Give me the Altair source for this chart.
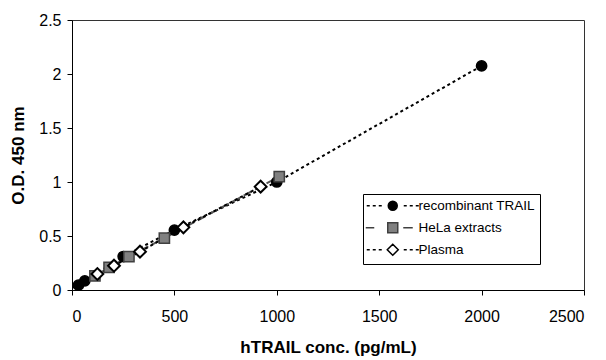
import altair as alt
import pandas as pd

series_names = ["recombinant TRAIL", "HeLa extracts", "Plasma"]

rec_x = [31.25, 62.5, 250, 500, 1000, 2000]
rec_y = [0.045, 0.085, 0.31, 0.555, 1.0, 2.075]

hela_x = [112, 181, 278, 451, 1012]
hela_y = [0.13, 0.21, 0.31, 0.48, 1.05]

plasma_x = [124, 205, 332, 544, 921]
plasma_y = [0.148, 0.225, 0.355, 0.58, 0.957]

x_ticks = [0, 500, 1000, 1500, 2000, 2500]
y_ticks = [0, 0.5, 1, 1.5, 2, 2.5]

rows = []
for name, xs, ys in [(series_names[0], rec_x, rec_y),
                     (series_names[1], hela_x, hela_y),
                     (series_names[2], plasma_x, plasma_y)]:
    for i, (a, b) in enumerate(zip(xs, ys)):
        rows.append({"series": name, "conc": a, "od": b, "order": i})
df = pd.DataFrame(rows)

FONT = "Liberation Sans"

x_enc = alt.X("conc:Q", scale=alt.Scale(domain=[0, 2500], nice=False),
              axis=alt.Axis(values=x_ticks, format="d", title="hTRAIL conc. (pg/mL)"))
y_enc = alt.Y("od:Q", scale=alt.Scale(domain=[0, 2.5], nice=False),
              axis=alt.Axis(values=y_ticks, format=".1~f", title="O.D. 450 nm"))

styles = {
    series_names[0]: dict(line="black", dash=[3, 3], shape="circle", fill="black", stroke="black", size=105, sw=1.5),
    series_names[1]: dict(line="#555555", dash=[9, 4], shape="square", fill="#808080", stroke="#404040", size=105, sw=1.5),
    series_names[2]: dict(line="black", dash=[3, 3], shape="diamond", fill="white", stroke="black", size=140, sw=2),
}

base = alt.Chart(df)
layers = []
for name in series_names:
    st = styles[name]
    sub = base.transform_filter(alt.datum.series == name)
    layers.append(sub.mark_line(strokeWidth=2, strokeDash=st["dash"], color=st["line"]).encode(
        x=x_enc, y=y_enc, order="order:Q"))
for name in series_names:
    st = styles[name]
    sub = base.transform_filter(alt.datum.series == name)
    layers.append(sub.mark_point(shape=st["shape"], filled=True, fill=st["fill"], stroke=st["stroke"],
                                 strokeWidth=st["sw"], size=st["size"], opacity=1).encode(x=x_enc, y=y_enc))

# legend symbols: dotted/dashed line + marker
dots = "M-5.2,0L-4.6,0M-4,0L-3.4,0M-2.8,0L-2.2,0M2.2,0L2.8,0M3.4,0L4,0M4.6,0L5.2,0"
circle = "M-0.9,0a0.9,0.9 0 1,0 1.8,0a0.9,0.9 0 1,0 -1.8,0Z"
square = "M-1,-1L1,-1L1,1L-1,1Z"
diamond = "M0,-1.1L1.1,0L0,1.1L-1.1,0Z"
legend_shapes = [dots + circle,
                 "M-5.4,0L-3.7,0M2.1,0L4,0" + square,
                 dots + diamond]

legend_layer = base.transform_filter("false").mark_point(opacity=1).encode(
    x=x_enc, y=y_enc,
    shape=alt.Shape("series:N", scale=alt.Scale(domain=series_names, range=legend_shapes),
                    legend=alt.Legend(title=None, orient="none", legendX=291, legendY=174,
                                      symbolSize=100, symbolStrokeWidth=1.5, symbolOffset=18,
                                      labelOffset=19, rowPadding=5, padding=5,
                                      strokeColor="black", fillColor="white",
                                      labelFont=FONT, labelFontSize=13.5, labelColor="black",
                                      symbolOpacity=1)),
    fill=alt.Fill("series:N", scale=alt.Scale(domain=series_names, range=["black", "#808080", "white"]),
                  legend=alt.Legend(title=None)),
    stroke=alt.Stroke("series:N", scale=alt.Scale(domain=series_names, range=["black", "#404040", "black"]),
                      legend=alt.Legend(title=None)),
)
layers.append(legend_layer)

chart = alt.layer(*layers).properties(
    width=512, height=270,
    autosize=alt.AutoSizeParams(type="none"),
    padding={"left": 64, "top": 12, "right": 10, "bottom": 70},
).configure_view(
    stroke="#333333", strokeWidth=1
).configure_axis(
    grid=False, domainColor="black", domainWidth=1, tickColor="black", tickSize=5,
    labelFont=FONT, labelFontSize=16, labelColor="black",
    titleFont=FONT, titleFontSize=17, titleFontWeight="bold", titleColor="black",
).configure_axisX(
    labelPadding=13, titlePadding=15
).configure_axisY(
    labelPadding=6, titlePadding=11
)

chart.save("out.html", embed_options={"renderer": "svg", "actions": False})
